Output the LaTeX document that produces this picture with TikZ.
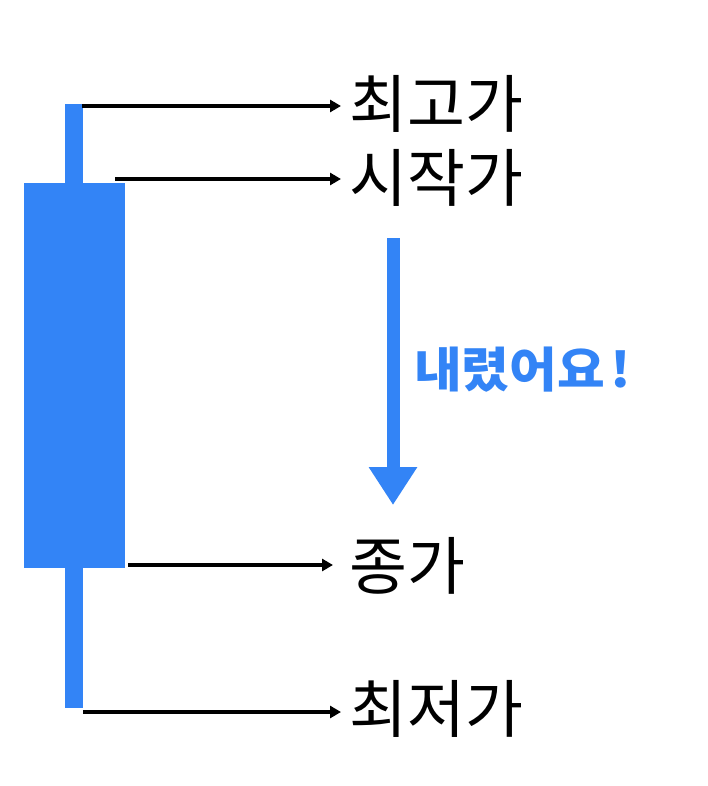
\documentclass[tikz,border=0pt]{standalone}
\usepackage{fontspec}
\setmainfont{Noto Sans CJK KR}
\usetikzlibrary{arrows.meta}
\definecolor{candle}{RGB}{51,132,246}
\begin{document}
\begin{tikzpicture}[x=1pt,y=-1pt,
  lbl/.style={anchor=west,inner sep=0pt,font=\fontsize{63}{65}\selectfont},
  ptr/.style={line width=4pt,-{Triangle[length=11pt,width=12pt]}},
  bigarrow/.style={candle,line width=13pt,-{Triangle[length=38pt,width=46pt]}}]
\useasboundingbox[fill=white] (0,0) rectangle (708,786);
% candle
\fill[candle] (65,104) rectangle (83,708);
\fill[candle] (24,183) rectangle (125,568);
% start coordinates
\coordinate (hs) at (82,106);
\coordinate (os) at (115,179);
\coordinate (cs) at (128,565);
\coordinate (ls) at (83,712);
% labels
\node[lbl] (high) at (349,104) {최고가};
\node[lbl] (open) at (349,178) {시작가};
\node[lbl] (close) at (349,566) {종가};
\node[lbl] (low) at (349,709) {최저가};
\coordinate (he) at (341,106);
\coordinate (oe) at (341,179);
\coordinate (ce) at (333,565);
\coordinate (le) at (341,712);
\draw[ptr] (hs) -- (he);
\draw[ptr] (os) -- (oe);
\draw[ptr] (cs) -- (ce);
\draw[ptr] (ls) -- (le);
% down arrow
\coordinate (ds) at (393,238);
\coordinate (de) at (393,505);
\draw[bigarrow] (ds) -- (de);
\node[anchor=west,inner sep=0pt,text=candle,xscale=1.08,font=\fontsize{48}{50}\bfseries\selectfont] (down) at (414,370) {내렸어요\hspace{5pt}!};
\end{tikzpicture}
\end{document}
